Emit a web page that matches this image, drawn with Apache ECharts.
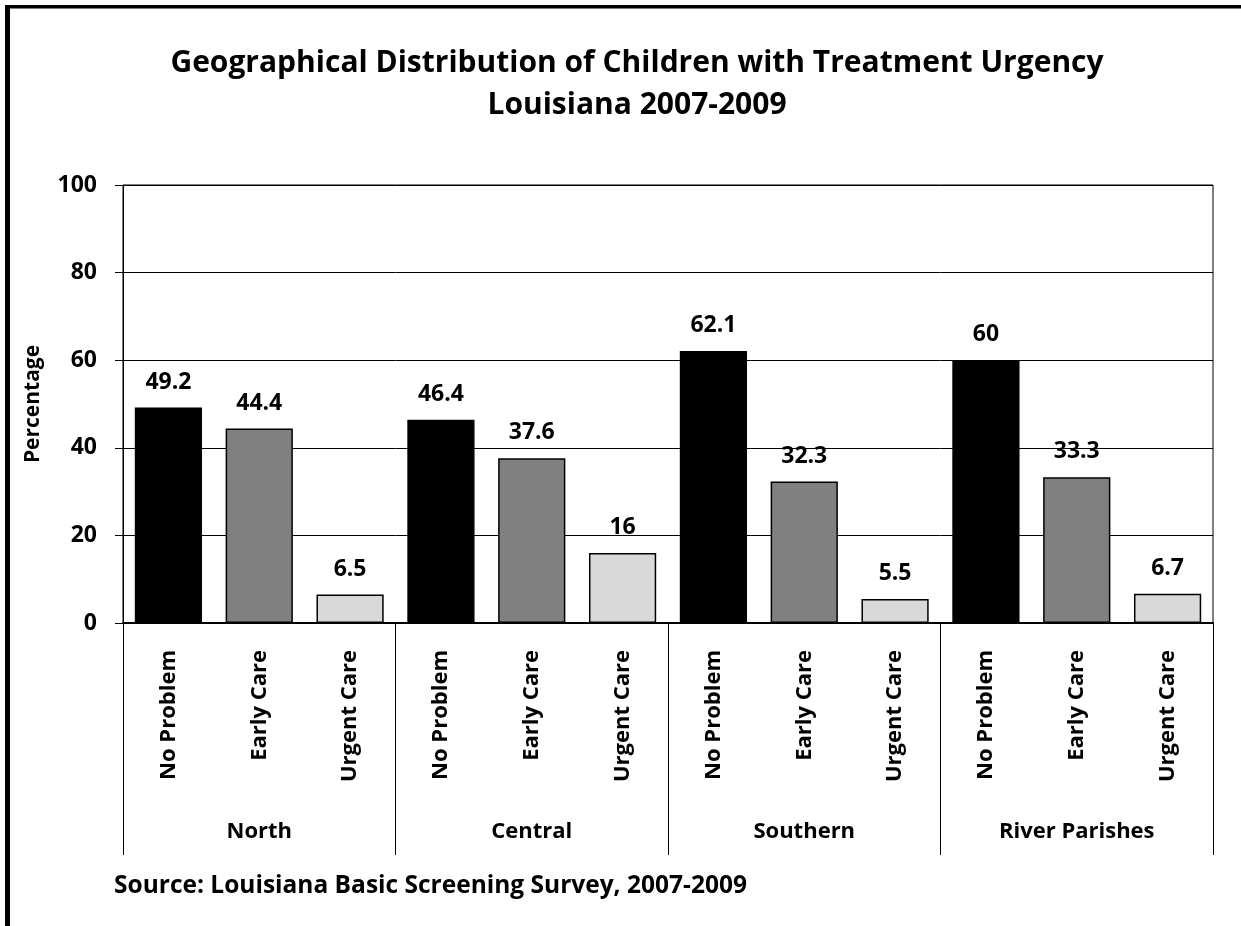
<!DOCTYPE html>
<html>
<head>
<meta charset="utf-8">
<script src="https://cdn.jsdelivr.net/npm/echarts@6/dist/echarts.min.js"></script>
<style>
html,body{margin:0;padding:0;background:#fff;}
#chart{width:1241px;height:926px;}
</style>
</head>
<body>
<div id="chart"></div>
<script>
const regions = ['North', 'Central', 'Southern', 'River Parishes'];
const levels = ['No Problem', 'Early Care', 'Urgent Care'];
const values = [49.2, 44.4, 6.5, 46.4, 37.6, 16, 62.1, 32.3, 5.5, 60, 33.3, 6.7];
const levelColors = ['#000000', '#808080', '#d9d9d9'];
const yTicks = [0, 20, 40, 60, 80, 100];

const FONT = '"Open Sans"';
const categories = [];
regions.forEach(r => levels.forEach(l => categories.push(l)));

const chart = echarts.init(document.getElementById('chart'));
chart.setOption({
  backgroundColor: '#ffffff',
  animation: false,
  title: [
    {
      text: 'Geographical Distribution of Children with Treatment Urgency\nLouisiana 2007-2009',
      left: 637, top: 42, textAlign: 'center', padding: 0,
      textStyle: { fontFamily: FONT, fontWeight: 'bold', fontSize: 30, lineHeight: 42, color: '#000' }
    },
    {
      text: 'Source: Louisiana Basic Screening Survey, 2007-2009',
      left: 114, top: 874, padding: 0,
      textStyle: { fontFamily: FONT, fontWeight: 'bold', fontSize: 24.5, color: '#000' }
    }
  ],
  graphic: [
    { type: 'rect', shape: { x: 5, y: 5, width: 5, height: 921 }, style: { fill: '#000' } },
    { type: 'rect', shape: { x: 5, y: 5, width: 1236, height: 3.5 }, style: { fill: '#000' } }
  ],
  grid: { left: 123, right: 28, top: 185, bottom: 303, show: true, borderColor: '#000', borderWidth: 1, backgroundColor: 'transparent' },
  xAxis: [
    {
      type: 'category', data: categories, position: 'bottom',
      axisLine: { show: true, lineStyle: { color: '#000', width: 2 } },
      axisTick: { show: false },
      axisLabel: { interval: 0, rotate: 90, margin: 27, fontFamily: FONT, fontWeight: 'bold', fontSize: 22, color: '#000' }
    },
    {
      type: 'category', data: regions, position: 'bottom',
      axisLine: { show: false },
      axisTick: { show: true, length: 232, lineStyle: { color: '#000', width: 1 } },
      axisLabel: { interval: 0, margin: 198, fontFamily: FONT, fontWeight: 'bold', fontSize: 22, color: '#000' }
    }
  ],
  yAxis: {
    type: 'value', min: 0, max: 100, interval: 20,
    name: 'Percentage', nameLocation: 'middle', nameGap: 79, nameRotate: 90,
    nameTextStyle: { fontFamily: FONT, fontWeight: 'bold', fontSize: 21, color: '#000' },
    axisLine: { show: true, lineStyle: { color: '#000', width: 1 } },
    axisTick: { show: true, length: 8, lineStyle: { color: '#000' } },
    axisLabel: { margin: 26, fontFamily: FONT, fontWeight: 'bold', fontSize: 23, color: '#000',
      formatter: v => yTicks.includes(v) ? String(v) : '' },
    splitLine: { show: true, lineStyle: { color: '#000', width: 1 } }
  },
  series: [{
    type: 'bar', xAxisIndex: 0, yAxisIndex: 0,
    barCategoryGap: '26%',
    data: values.map((v, i) => ({
      value: v,
      itemStyle: { color: levelColors[i % 3], borderColor: '#000', borderWidth: 1.5 }
    })),
    label: { show: true, position: 'top', distance: 14, fontFamily: FONT, fontWeight: 'bold', fontSize: 23, color: '#000' }
  }]
});
</script>
</body>
</html>
